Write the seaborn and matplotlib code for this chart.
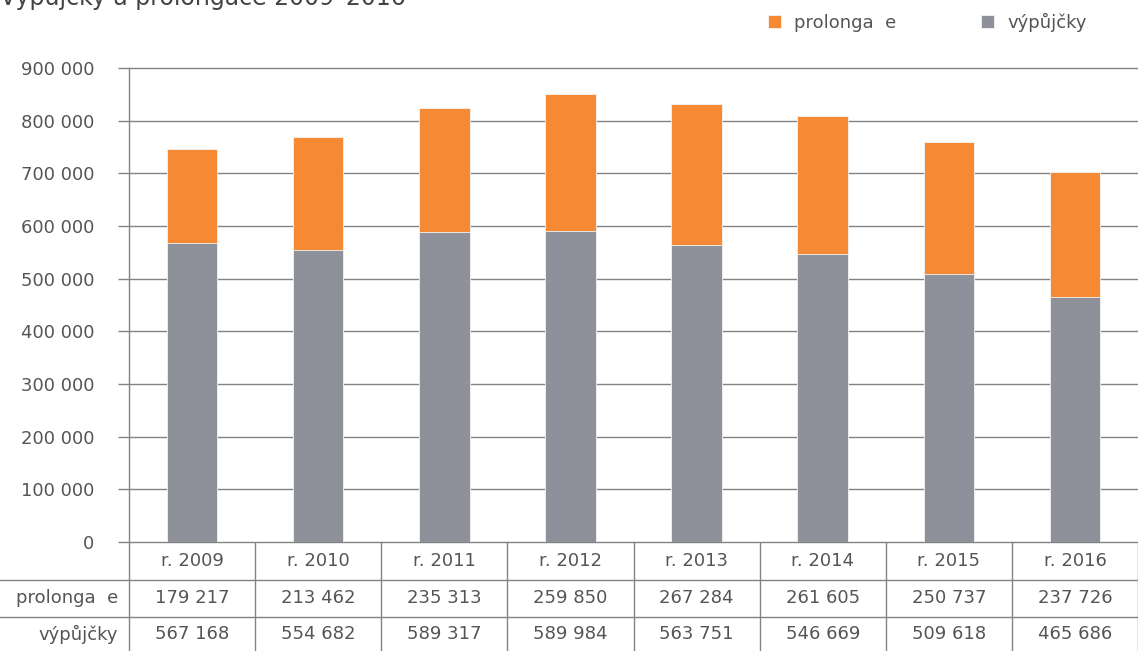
import matplotlib
matplotlib.use("Agg")
import matplotlib.pyplot as plt
import matplotlib.transforms as mtransforms
from matplotlib.lines import Line2D
import seaborn as sns

years = ['r. 2009', 'r. 2010', 'r. 2011', 'r. 2012', 'r. 2013', 'r. 2014', 'r. 2015', 'r. 2016']
prolongace = [179217, 213462, 235313, 259850, 267284, 261605, 250737, 237726]
vypujcky = [567168, 554682, 589317, 589984, 563751, 546669, 509618, 465686]
yticks = [0, 100000, 200000, 300000, 400000, 500000, 600000, 700000, 800000, 900000]
label_prol = 'prolonga  e'
label_vyp = 'výpůjčky'
title = 'Výpůjčky a prolongace 2009–2016'

ORANGE = '#F68933'
GREY = '#8E9199'
TXT = '#555555'
LINE = '#838383'
FS = 13

def fmt(v):
    return f"{v:,}".replace(',', ' ')

sns.set_style('white')
plt.rcParams['font.family'] = ['DejaVu Sans']

W, H = 1138, 651
fig = plt.figure(figsize=(W / 100, H / 100), dpi=100)
ax = fig.add_axes([129 / W, (H - 542) / H, 1 - 129 / W, (542 - 68) / H])

totals = [p + v for p, v in zip(prolongace, vypujcky)]
sns.barplot(x=years, y=totals, color=ORANGE, saturation=1, width=0.4, ax=ax, label=label_prol,
            edgecolor='#f3f3f3', linewidth=0.6)
sns.barplot(x=years, y=vypujcky, color=GREY, saturation=1, width=0.4, ax=ax, label=label_vyp,
            edgecolor='#f3f3f3', linewidth=0.6)

ax.set_xlim(-0.5, len(years) - 0.5)
ax.set_ylim(0, 900000)
ax.set_yticks(yticks)
ax.set_yticklabels([fmt(t) for t in yticks], fontsize=FS, color=TXT)
ax.set_xticks([])
ax.set_xlabel('')
ax.set_ylabel('')
for s in ['top', 'right', 'bottom']:
    ax.spines[s].set_visible(False)
ax.spines['left'].set_color(LINE)
ax.spines['left'].set_linewidth(1)
ax.tick_params(axis='y', length=8, width=1, color=LINE, pad=17, direction='out', left=True)
ax.yaxis.grid(True, color=LINE, linewidth=1)
ax.set_axisbelow(True)
for gl in ax.get_ygridlines():
    gl.set_clip_on(False)
if ax.get_legend():
    ax.get_legend().remove()

# table
trans = mtransforms.blended_transform_factory(ax.transData, fig.transFigure)
for i in range(len(years) + 1):
    x = i - 0.5
    fig.add_artist(Line2D([x, x], [0, (H - 542) / H], transform=trans, color=LINE, lw=1))
for ypx in [580, 617]:
    fig.add_artist(Line2D([0, 1], [(H - ypx) / H] * 2, transform=fig.transFigure, color=LINE, lw=1))

row_y = [(H - 561) / H, (H - 598) / H, (H - 634) / H]
for i, yr in enumerate(years):
    fig.text(i, row_y[0], yr, transform=trans, ha='center', va='center', fontsize=FS, color=TXT)
    fig.text(i, row_y[1], fmt(prolongace[i]), transform=trans, ha='center', va='center', fontsize=FS, color=TXT)
    fig.text(i, row_y[2], fmt(vypujcky[i]), transform=trans, ha='center', va='center', fontsize=FS, color=TXT)
fig.text(118 / W, row_y[1], label_prol, ha='right', va='center', fontsize=FS, color=TXT)
fig.text(118 / W, row_y[2], label_vyp, ha='right', va='center', fontsize=FS, color=TXT)

# legend
handles, labels = ax.get_legend_handles_labels()
fig.legend(handles, labels, loc='center', bbox_to_anchor=(927 / W, 1 - 22 / H), ncol=2,
           frameon=False, fontsize=FS, labelcolor=TXT, handlelength=0.75, handleheight=0.75,
           handletextpad=0.7, columnspacing=4.7)

# title (cut at top, as in the reference)
fig.text(0.0, 1 - 5 / H, title, ha='left', va='baseline', fontsize=17, color='#444444')

fig.savefig('out.png', dpi=100)
